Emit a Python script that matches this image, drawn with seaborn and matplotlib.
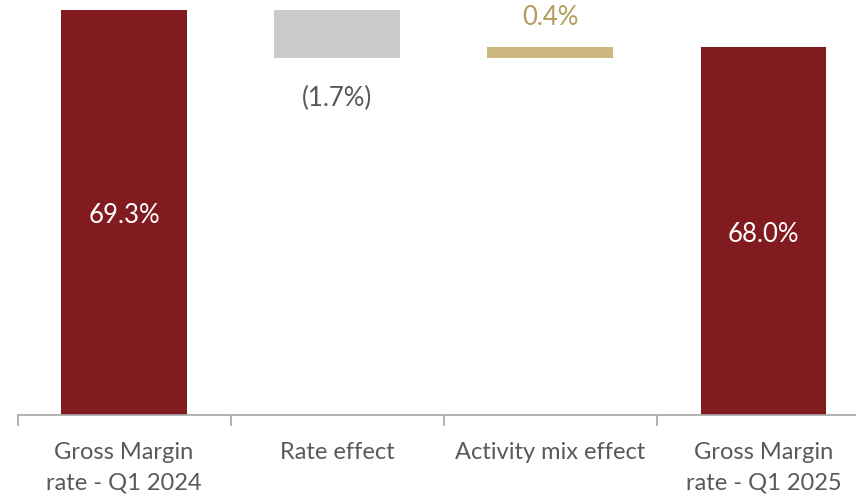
import matplotlib
matplotlib.use("Agg")
import matplotlib.pyplot as plt
import seaborn as sns
import numpy as np

# Gross margin bridge, Q1 2024 -> Q1 2025 (in %)
categories = ["Gross Margin\nrate - Q1 2024", "Rate effect", "Activity mix effect", "Gross Margin\nrate - Q1 2025"]
start_value = 69.3
effects = [-1.7, 0.4]
end_value = 68.0

bar_colors = ["#821B20", "#CBCBCB", "#CBB77E", "#821B20"]
label_colors = ["#FFFFFF", "#595959", "#B49B57", "#FFFFFF"]

# floating bars: bottoms and heights
running = start_value
bottoms, heights = [0.0], [start_value]
for e in effects:
    lo = min(running, running + e)
    bottoms.append(lo)
    heights.append(abs(e))
    running += e
bottoms.append(0.0)
heights.append(end_value)

sns.set_theme(style="white")
plt.rcParams["font.family"] = ["Lato", "DejaVu Sans"]

fig = plt.figure(figsize=(8.56, 4.95), dpi=100)
ax = fig.add_axes([17.5 / 856, 80 / 495, (870 - 17.5) / 856, 415 / 495])

sns.barplot(x=categories, y=heights, bottom=bottoms, width=0.59, ax=ax,
            color=bar_colors[0], saturation=1, linewidth=0)
for patch, c in zip(ax.patches, bar_colors):
    patch.set_facecolor(c)

ymin = 55.07
scale = 405 / (69.3 - ymin)  # pixels per percentage point
ax.set_ylim(ymin, 69.3 + 10 / scale)
ax.set_xlim(-0.5, 3.5)

# value labels
fs = 18.5
ax.text(0, (ymin + start_value) / 2 - 3 / scale, f"{start_value:.1f}%", ha="center", va="center",
        color=label_colors[0], fontsize=fs)
ax.text(3, (ymin + end_value) / 2 - 4 / scale, f"{end_value:.1f}%", ha="center", va="center",
        color=label_colors[3], fontsize=fs)
for i, e in enumerate(effects, start=1):
    lo, hi = bottoms[i], bottoms[i] + heights[i]
    if e < 0:
        ax.text(i, lo - 40 / scale, f"({abs(e):.1f}%)", ha="center", va="center",
                color=label_colors[i], fontsize=fs)
    else:
        ax.text(i, hi + 29 / scale, f"{e:.1f}%", ha="center", va="center",
                color=label_colors[i], fontsize=fs)

# axis styling: boundary ticks, centered category labels
for s in ["left", "top", "right"]:
    ax.spines[s].set_visible(False)
ax.spines["bottom"].set_color("#A6A6A6")
ax.spines["bottom"].set_linewidth(1.2)
ax.set_yticks([])
ax.set_xticks([-0.5, 0.5, 1.5, 2.5, 3.5])
ax.set_xticklabels([])
ax.tick_params(axis="x", which="major", length=8, width=1.2, color="#A6A6A6", direction="out", bottom=True)
ax.set_xticks(range(4), minor=True)
ax.set_xticklabels(categories, minor=True, fontsize=17, color="#595959", linespacing=1.55)
ax.tick_params(axis="x", which="minor", length=0, pad=19.5)
ax.set_xlabel("")
ax.set_ylabel("")

fig.savefig("out.png", dpi=100)
